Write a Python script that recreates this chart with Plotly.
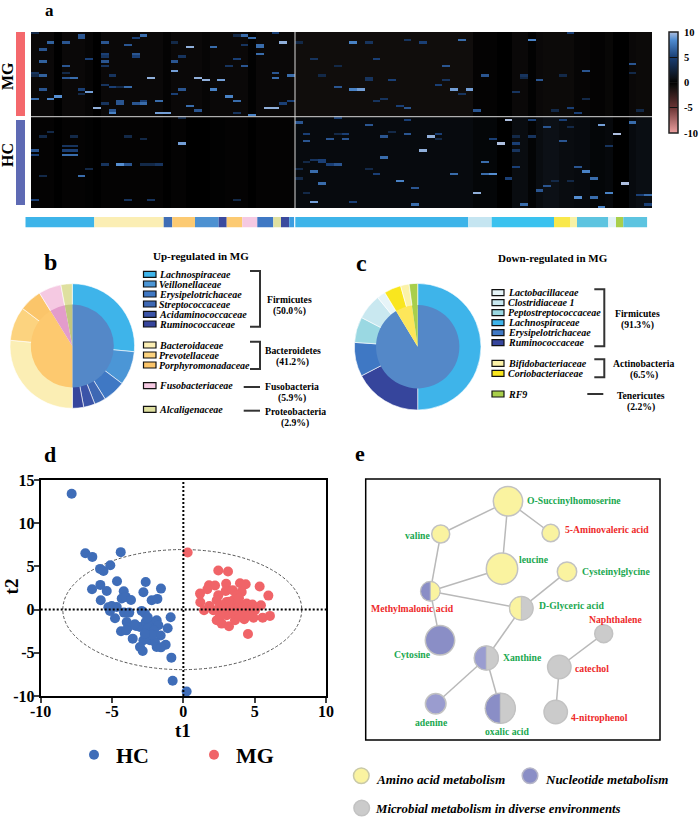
import plotly.graph_objects as go

W, H = 700, 818
SERIF = "Liberation Serif"

# heatmap: (column, row, value); rows 0-35 are MG, rows 36-74 are HC
n_cols, n_rows = 80, 75
marks_mg = [
    (0,0,3),(2,4,6.5),(1,7,6),(1,12,6.5),(0,17,4),(1,18,6.5),(0,18,3),(1,24,6),(0,28,7),(2,28,8),(3,27,8.5),
    (4,4,6),(4,14,6),(4,17,3),(4,19,6),(5,19,7),(6,1,6),(6,2,6),(6,24,5),(7,25,9),(7,11,5),(6,26,3),(8,32,9.5),
    (9,4,6),(9,9,5),(9,10,4),(9,12,6),(9,14,4),(9,22,4),(9,30,4),(10,18,4),(10,23,5),(10,33,6),(10,34,8),
    (11,29,6),(11,30,6),(11,23,3),(12,23,7),(12,5,6),(13,2,5),(13,9,6),(13,10,5),(14,1,7),(13,30,6),(14,30,7),
    (14,29,5),(15,19,9.5),(16,29,7),(16,34,9),(17,34,9),(18,12,6),(18,16,9),(18,26,5),(18,4,3),(19,24,6),(19,10,4),
    (20,6,9.5),(20,31,7),(21,19,9.5),(21,33,6),(22,20,9.5),(23,6,7),(23,24,8),(24,20,9),(25,27,8),(26,29,7),
    (26,1,3),(25,14,4),(26,11,5),(27,1,7),(28,2,7),(27,14,6),(27,5,4),(29,5,7),(29,6,7),(29,9,7),(31,0,5),
    (30,32,9.5),(31,32,9.5),(32,4,9.5),(31,17,6),(31,19,7),(32,30,5),(33,29,5),(33,18,7),(28,35,8),(26,34,4),
    (36,11,4),(39,23,6),(34,4,3),(37,18,3),(39,14,3),(41,4,8),(43,4,4),(44,11,5),(43,19,4),(43,20,4),(41,24,8),
    (42,24,9),(44,29,4),(45,28,4),(46,20,5),(47,31,5),(48,3,4),(48,32,6),(50,4,5),(52,22,5),(53,14,6),(53,20,4),
    (54,24,9),(55,3,7),(56,24,9),(55,26,4),(57,33,6),(58,18,6),(62,25,4),(63,18,4),(63,19,3),(64,3,8),(65,20,6),
    (67,33,3),(68,18,3),(69,0,5),(69,32,5),(70,34,5),(71,16,6),(71,28,3),(77,13,6),(77,17,3),(78,33,3),
]
marks_hc = [
    (0,50,6),(0,52,5),(2,42,3),(0,71,5),(1,61,3),(4,48,4),(5,48,4),(4,50,5),(5,50,5),(4,52,7),(5,52,7),(5,44,3),
    (6,61,7),(7,58,3),(9,56,4),(11,56,8.5),(12,56,6),(14,56,3),(15,56,3),(16,56,4),(19,47,9),(19,36,3),(12,71,4),
    (15,71,4),(26,71,3),(1,44,3),(14,45,3),(12,44,3),
    (34,38,6),(35,43,5),(35,46,6),(35,55,3),(36,54,4),(37,54,5),(37,55,5),(38,56,5),(38,45,6),(39,36,5),(39,56,6),
    (39,43,3),(40,43,5),(40,45,6),(36,59,7),(37,64,7),(36,72,9),(35,68,3),(34,62,3),(34,58,3),(41,72,5),(43,39,6),
    (43,58,3),(44,60,5),(45,44,6),(45,53,7),(46,42,3),(47,63,8),(48,37,5),(48,43,6),(49,66,6),(49,73,7),(50,50,9.5),
    (51,44,9.5),(52,43,5),(52,45,3),(54,60,7),(57,68,9.5),(58,55,7),(58,60,7),(59,60,8.5),(59,45,5),(60,47,10),
    (61,37,10),(61,62,5),(62,47,5),(62,50,4),(62,57,5),(62,44,3),(63,73,7),(64,37,5),(64,44,4),(65,67,6),(66,40,6),
    (66,65,6),(67,63,3),(68,46,6),(68,37,5),(69,40,3),(69,63,3),(70,57,6),(70,70,8.5),(71,59,8),(72,62,7),(72,70,7),
    (73,39,9),(73,74,8),(74,68,8),(74,48,4),(75,43,10),(76,64,10),(77,38,7),(78,69,5),(79,69,7),(79,73,5),
]
# background level of each column, same estimate for the whole group
base_mg = [-0.5,-0.5,-0.5,0,-0.5,-0.5,-0.5,-0.3,0,-0.5,-0.5,-0.5,-0.5,-0.5,-0.5,-0.5,-0.5,-0.2,-0.5,-0.5,-0.5,-0.5,-0.3,-0.5,-0.5,-0.5,-0.5,-0.5,-0.1,-0.5,-0.5,-0.5,-0.5,-0.5,
           -0.8,-0.8,-0.8,-0.8,-0.8,-0.8,-0.8,-0.8,-0.8,-0.8,-0.8,-0.8,-0.8,-0.8,-0.8,-0.8,-0.8,-0.8,-0.8,-0.8,-0.8,-0.8,-0.8,-0.2,-0.2,-0.2,0,0,-0.5,-0.5,-0.1,-0.5,-0.6,-0.6,-0.6,-0.6,-0.3,-0.3,-0.2,-0.2,-0.4,0,0,-0.5,-0.6,-0.6]
base_hc = [-0.2,-0.2,-0.2,0,-0.2,-0.2,-0.2,-0.1,0,-0.2,-0.2,-0.2,-0.2,-0.2,-0.2,-0.2,-0.2,0,-0.2,-0.2,0,0,0,-0.1,-0.1,-0.2,-0.2,-0.2,0,-0.2,-0.2,-0.2,-0.2,-0.2,
           0.5,0.5,0.5,0.5,0.5,0.5,0.5,0.5,0.5,0.5,0.5,0.5,0.5,0.5,0.5,0.5,0.5,0.5,0.5,0.5,0.5,0.5,0.5,0.3,0.3,0.3,0,0,0.6,0.6,0.2,0.6,0.8,0.8,0.6,0.6,0.5,0.5,0.3,0.3,0.4,0,0,0.5,0.7,0.7]
bar_ticks = [-10, -5, 0, 5, 10]
bar_labels = ["\u00a0-10", "\u00a0-5", "\u00a00", "\u00a05", "\u00a010"]

# family strip under the heatmap
strip_widths = [69, 69.4, 8.6, 22.7, 23.7, 8, 15.6, 15, 16, 7.7, 8.3, 5, 1, 173, 23.4, 62.3, 16, 7, 31.3, 7.7, 7.3, 24]
strip_colors = ["#3db4e9","#fbeeb4","#3f6db5","#fcca72","#4d91d1","#3b4a9e","#fcca72","#f5c9e2","#3f78c4","#dfe0a0","#3b4a9e",
                "#3b9de0","#ffffff","#3db4e9","#c5e5f1","#3ac2ef","#f9e84b","#f8f2a6","#5dc4e0","#e3f2f7","#a9cf4b","#5dc4e0"]

# pies, feature counts per family and phylum
up_family = ["Lachnospiraceae","Veillonellaceae","Erysipelotrichaceae","Streptococcaceae","Acidaminococcaceae","Ruminococcaceae",
             "Bacteroidaceae","Prevotellaceae","Porphyromonadaceae","Fusobacteriaceae","Alcaligenaceae"]
up_counts = [9, 3, 2, 1, 1, 1, 9, 3, 2, 2, 1]
up_colors = ["#3eb4ea","#4b96d6","#3f78c4","#3e68b4","#3b54a8","#36459c","#fbeeb4","#fcd37f","#fbc56a","#f5c9e2","#dfe0a0"]
up_phylum = [50.0, 41.2, 5.9, 2.9]
up_phylum_colors = ["#5488c8","#fdc96f","#e39ccb","#c3c77f"]
down_family = ["Lachnospiraceae","Ruminococcaceae","Erysipelotrichaceae","Peptostreptococcaceae","Clostridiaceae 1","Lactobacillaceae",
               "Coriobacteriaceae","Bifidobacteriaceae","RF9"]
down_counts = [23, 8, 4, 3, 3, 1, 2, 1, 1]
down_colors = ["#3eb4ea","#36459c","#3f78c4","#9ad8e2","#c9e8f0","#e6f4f8","#f9e61e","#fbf2a8","#a9cf4b"]
down_phylum = [91.3, 6.5, 2.2]
down_phylum_colors = ["#5488c8","#fde65a","#a9cf4b"]

# score plot
hc_t1 = [-7.83,-6.87,-6.38,-4.39,-5.84,-5.6,-5.12,-4.65,-5.82,-6.4,-5.37,-2.64,-2.8,-1.57,-4.18,-4.32,-4.04,-3.67,-5.79,-2.22,-1.82,
         -5.26,-5.02,-4.67,-5.14,-4.79,-4.16,-3.79,-2.92,-2.69,-0.89,-3.97,-3.86,-4.37,-4.0,-3.32,-3.04,-2.64,-2.45,-2.22,-1.87,-1.75,
         -2.5,-2.06,-1.1,-1.59,-3.55,-2.57,-2.8,-2.34,-1.99,-1.24,-1.87,-1.57,-3.04,-2.85,-0.84,-0.75,0.23,-2.5,-2.2,-2.7,-3.4]
hc_t2 = [13.4,6.53,6.1,6.65,4.71,4.48,5.14,3.28,2.86,2.36,2.16,3.2,2.0,2.43,2.13,1.28,1.47,1.12,1.08,1.08,1.24,
         0.27,0.42,0.31,-0.15,-1.0,-0.35,-0.35,-0.15,-0.46,-0.89,-1.43,-2.0,-2.5,-2.4,-1.9,-2.0,-1.43,-1.24,-1.82,-1.24,-1.82,
         -2.2,-2.4,-2.16,-3.0,-3.36,-3.17,-3.55,-3.55,-3.75,-4.06,-4.33,-4.37,-4.33,-4.79,-5.56,-8.23,-9.47,-0.9,-2.9,-2.8,-1.7]
mg_t1 = [0.3,2.45,3.13,1.8,2.22,3.0,3.97,4.37,5.35,5.96,1.17,1.68,1.19,2.45,2.97,3.46,4.09,3.74,2.34,1.82,1.45,2.1,2.57,3.04,3.5,3.97,
         4.44,4.84,5.44,2.69,3.27,3.74,4.2,4.67,5.02,2.34,2.69,3.2,3.62,4.27,4.91,5.56,6.07,4.53,3.04,2.57,3.5,3.97,4.56,3.2,3.9,4.2,2.9,3.5]
mg_t2 = [6.6,4.52,4.4,2.82,2.78,2.98,3.05,2.94,2.67,1.62,1.85,2.36,0.85,1.66,2.16,2.24,2.05,1.66,1.08,0.42,-0.08,-0.08,0.5,0.89,1.08,0.7,
         0.7,0.58,0.5,-0.08,0.31,0.12,-0.08,-0.08,-0.08,-1.24,-1.62,-1.93,-1.24,-1.12,-0.93,-0.93,-0.73,-2.82,-0.66,-0.66,-0.46,-0.66,-0.66,0.9,1.3,0.2,0.2,-0.1]
t1_ticks = [-10, -5, 0, 5, 10]
t1_labels = ["-10", "-5", "0", "5", "10"]
t2_ticks = [-10, -5, 0, 5, 10, 15]
t2_labels = ["-10", "-5", "0", "5", "10", "15"]

# network, node positions are read in page pixels
node_names = ["O-Succinylhomoserine","valine","5-Aminovaleric acid","leucine","Cysteinylglycine","Methylmalonic acid","D-Glyceric acid",
              "Naphthalene","Cytosine","Xanthine","catechol","adenine","oxalic acid","4-nitrophenol"]
node_x = [508, 440.7, 550.7, 502, 567, 430.3, 521.3, 603.7, 440, 486.3, 559.3, 435.7, 500.3, 555.7]
node_y = [501.3, 534, 533, 568.7, 571.7, 591.3, 608.3, 633.7, 640.3, 658, 667, 703.7, 708.3, 712]
node_r = [14.7, 9, 8.7, 15.7, 9.7, 9.7, 11.7, 9, 14.7, 12, 11.7, 10.3, 15, 11.7]
node_colors = ["#faf3a0","#faf3a0","#faf3a0","#faf3a0","#faf3a0","#faf3a0","#faf3a0","#cbcbcb","#8a8ec6","#cbcbcb","#cbcbcb","#9a9ccf","#cbcbcb","#cbcbcb"]
edges = [(0,1),(0,2),(0,3),(1,5),(5,3),(5,6),(5,8),(6,4),(6,9),(9,11),(9,12),(7,10),(10,13)]
# right half, left half
split_nodes = {"Methylmalonic acid": ("#faf3a0","#8a8ec6"), "D-Glyceric acid": ("#cbcbcb","#faf3a0"),
               "Xanthine": ("#cbcbcb","#9a9dd0"), "oxalic acid": ("#cbcbcb","#8a8ec6")}
label_x = [574, 417.7, 607, 533.7, 616.7, 412.7, 571, 615.3, 412, 522.7, 592, 431, 506.7, 599.7]
label_y = [500, 535, 529.7, 559, 571.7, 608.3, 605.7, 619, 654.3, 657, 668, 722.7, 731.7, 717.3]
label_colors = ["#1aa850","#1aa850","#ee2a2a","#1aa850","#1aa850","#ee2a2a","#1aa850","#ee2a2a","#1aa850","#1aa850","#ee2a2a","#1aa850","#1aa850","#ee2a2a"]


def dx(a, b):
    return [a / W, b / W]


def dy(top, bottom):
    return [1 - bottom / H, 1 - top / H]


fig = go.Figure()

z = []
for r in range(n_rows):
    z.append(list(base_mg if r < 36 else base_hc))
for c, r, v in marks_mg + marks_hc:
    z[r][c] = v

fig.add_trace(go.Heatmap(
    z=z, zmin=-10, zmax=10, xaxis="x", yaxis="y",
    colorscale=[[0, "#eda0a0"], [0.25, "#6b3434"], [0.46, "#100d0c"], [0.5, "#000000"], [0.54, "#0c1016"], [0.75, "#1a3f75"], [0.92, "#4f8bd0"], [1, "#aebfdf"]],
    colorbar=dict(x=668.5 / W, xanchor="left", y=1 - 32 / H, yanchor="top", lenmode="pixels", len=100.5, ypad=0,
                  thicknessmode="pixels", thickness=9, outlinecolor="#222", outlinewidth=1.5,
                  tickvals=bar_ticks, ticktext=bar_labels, ticks="inside", ticklen=9, tickcolor="#111", xpad=0,
                  tickfont=dict(family=SERIF, size=10.5, color="black", weight=700)),
))

strip_base = [sum(strip_widths[:i]) for i in range(len(strip_widths))]
fig.add_trace(go.Bar(x=strip_widths, base=strip_base, y=[0] * len(strip_widths), orientation="h", width=1,
                     marker=dict(color=strip_colors, line_width=0), xaxis="x2", yaxis="y2", showlegend=False))

fig.add_trace(go.Scatter(x=hc_t1, y=hc_t2, mode="markers", name="HC", xaxis="x3", yaxis="y3",
                         marker=dict(color="#3f6db8", size=10)))
fig.add_trace(go.Scatter(x=mg_t1, y=mg_t2, mode="markers", name="MG", xaxis="x3", yaxis="y3",
                         marker=dict(color="#f06468", size=10)))

# network edges and nodes
ex, ey = [], []
for a, b in edges:
    ex += [node_x[a], node_x[b], None]
    ey += [node_y[a], node_y[b], None]
fig.add_trace(go.Scatter(x=ex, y=ey, mode="lines", line=dict(color="#b9b9b9", width=1.5), xaxis="x4", yaxis="y4", showlegend=False))
fig.add_trace(go.Scatter(x=node_x, y=node_y, mode="markers", xaxis="x4", yaxis="y4", showlegend=False,
                         marker=dict(size=[2 * r for r in node_r], sizemode="diameter", color=node_colors,
                                     line=dict(color="#c2c2c2", width=1.5), opacity=1)))


def ring(cx, cy, r, values, colors, hole=0, lw=0.6):
    fig.add_trace(go.Pie(values=values, sort=False, direction="clockwise", rotation=0, hole=hole, textinfo="none",
                         hoverinfo="skip", showlegend=False, marker=dict(colors=colors, line=dict(color="white", width=lw)),
                         domain=dict(x=dx(cx - r, cx + r), y=dy(cy - r, cy + r))))


ring(72.3, 346, 62.3, up_counts, up_colors, hole=0.6)
ring(72.3, 346, 41.5, up_phylum, up_phylum_colors, lw=0)
ring(417.7, 346.7, 63.3, down_counts, down_colors, hole=0.6)
ring(417.7, 346.7, 41.7, down_phylum, down_phylum_colors, lw=0)

for name, cols in split_nodes.items():
    i = node_names.index(name)
    r = node_r[i]
    fig.add_trace(go.Pie(values=[1, 1], sort=False, direction="clockwise", rotation=0, textinfo="none", hoverinfo="skip",
                         showlegend=False, marker=dict(colors=list(cols), line=dict(color="#c2c2c2", width=1)),
                         domain=dict(x=dx(node_x[i] - r, node_x[i] + r), y=dy(node_y[i] - r, node_y[i] + r))))

shapes = []


def canvas_rect(x0, y0, x1, y1, fill="rgba(0,0,0,0)", line="black", lw=1.0):
    shapes.append(dict(type="rect", xref="x4", yref="y4", x0=x0, y0=y0, x1=x1, y1=y1, fillcolor=fill, line=dict(color=line, width=lw)))


def canvas_path(path, color="#333", lw=2):
    shapes.append(dict(type="path", xref="x4", yref="y4", path=path, line=dict(color=color, width=lw)))


def canvas_dot(cx, cy, r, fill, line):
    shapes.append(dict(type="circle", xref="x4", yref="y4", x0=cx - r, x1=cx + r, y0=cy - r, y1=cy + r, fillcolor=fill, line=dict(color=line, width=1.5)))


# group bars and heatmap separators
canvas_rect(16, 32, 25, 116, fill="#f4686c", line="#f4686c", lw=0)
canvas_rect(16, 120, 25, 205, fill="#5e6ab4", line="#5e6ab4", lw=0)
canvas_path("M 295 32 L 295 208", color="#d8d8d8", lw=1)
canvas_path("M 31 116.7 L 652 116.7", color="#d8d8d8", lw=1)

# swatches and brackets for pies
up_rows = [274.3, 284, 294, 304, 314.3, 324, 345, 355, 365, 385.7, 409.3]
down_rows = [292.7, 302.7, 312.7, 322.7, 332.7, 342.7, 363.3, 373.3, 394]
for y, c in zip(up_rows, ["#3eb4ea","#4b96d6","#3f78c4","#3e68b4","#3b54a8","#36459c","#fbeeb4","#fcd37f","#fbc56a","#f5c9e2","#dfe0a0"]):
    canvas_rect(143.5, y - 3, 156, y + 3, fill=c, line="#111", lw=1.2)
for y, c in zip(down_rows, ["#e6f4f8","#c9e8f0","#9ad8e2","#3eb4ea","#3f78c4","#36459c","#fbf2a8","#f9e61e","#a9cf4b"]):
    canvas_rect(492, y - 3, 504, y + 3, fill=c, line="#111", lw=1.2)
canvas_path("M 250 271 H 260 V 326.7 H 250")
canvas_path("M 250 341.7 H 260 V 369 H 250")
canvas_path("M 243.7 387 H 260")
canvas_path("M 243.7 410.7 H 260")
canvas_path("M 594.3 289.3 H 604.3 V 346.3 H 594.3")
canvas_path("M 594.3 359.3 H 604.3 V 377.3 H 594.3")
canvas_path("M 587.3 394 H 603.3")

# score plot guides
shapes.append(dict(type="circle", xref="x3", yref="y3", x0=-8.45, x1=8.3, y0=-6.95, y1=6.95, layer="below", line=dict(color="#555", width=1, dash="3px,2px")))
shapes.append(dict(type="line", xref="x3", yref="y3", x0=-10, x1=10, y0=0, y1=0, line=dict(color="black", width=2, dash="2px,2px")))
shapes.append(dict(type="line", xref="x3", yref="y3", x0=0, x1=0, y0=-10, y1=15, line=dict(color="black", width=2, dash="2px,2px")))

# network frame and legend
canvas_rect(365.7, 479, 660, 740, lw=1.5)
canvas_dot(361.3, 775.7, 7.8, "#faf3a0", "#c9c9a8")
canvas_dot(530, 775.7, 7.8, "#8a8ec6", "#b5b5c8")
canvas_dot(361.7, 808, 7.8, "#cbcbcb", "#c2c2c2")

notes = []


def text(x, y, s, size=10, color="black", bold=True, italic=False, align="center", angle=0):
    if italic:
        s = "<i>" + s + "</i>"
    if bold:
        s = "<b>" + s + "</b>"
    if align == "left":
        x -= 3
    notes.append(dict(x=x, y=y, xref="x4", yref="y4", text=s, showarrow=False, xanchor=align, yanchor="middle", textangle=angle,
                      font=dict(family=SERIF, size=size, color=color)))


for s, x, y, size in [("a", 49, 10, 17), ("b", 50, 262, 24), ("c", 361.7, 263, 24), ("d", 50, 454, 22), ("e", 360, 453, 22)]:
    text(x, y, s, size=size)
text(7, 76, "MG", size=16, angle=-90)
text(7, 155, "HC", size=16, angle=-90)
text(182.7, 730, "t1", size=19)
text(11.7, 586.7, "t2", size=19, angle=-90)

text(200.7, 256, "Up-regulated in MG", size=11)
for y, s in zip(up_rows, ["Lachnospiraceae","Veillonellaceae","Erysipelotrichaceae","Streptococcaceae","Acidaminococcaceae","Ruminococcaceae",
                          "Bacteroidaceae","Prevotellaceae","Porphyromonadaceae","Fusobacteriaceae","Alcaligenaceae"]):
    text(159.5, y, s, size=10, italic=True, align="left")
for x, y, s in [(289.3, 299.7, "Firmicutes"), (289.3, 311, "(50.0%)"), (292.7, 350, "Bacteroidetes"), (292.7, 361.7, "(41.2%)"),
                (292.3, 386.7, "Fusobacteria"), (292.3, 398.3, "(5.9%)"), (295, 411.3, "Proteobacteria"), (295, 423, "(2.9%)")]:
    text(x, y, s, size=9.7)

text(553.3, 257.7, "Down-regulated in MG", size=11)
for y, s in zip(down_rows, ["Lactobacillaceae","Clostridiaceae 1","Peptostreptococcaceae","Lachnospiraceae","Erysipelotrichaceae","Ruminococcaceae",
                            "Bifidobacteriaceae","Coriobacteriaceae","RF9"]):
    text(508.7, y, s, size=10, italic=True, align="left")
for x, y, s in [(637.3, 313.7, "Firmicutes"), (637.3, 325, "(91.3%)"), (643.7, 363.3, "Actinobacteria"), (643.7, 375, "(6.5%)"),
                (640.7, 395, "Tenericutes"), (640.7, 406.7, "(2.2%)")]:
    text(x, y, s, size=9.7)

for s, x, y, c in zip(node_names, label_x, label_y, label_colors):
    text(x, y, s, size=9.7, color=c)
text(376.7, 779, "Amino acid metabolism", size=13.2, italic=True, align="left")
text(546, 779, "Nucleotide metabolism", size=13, italic=True, align="left")
text(376, 809, "Microbial metabolism in diverse environments", size=12.8, italic=True, align="left")

hidden = dict(visible=False, fixedrange=True)
tick_font = dict(family=SERIF, size=16, color="black", weight=700)

fig.update_layout(
    width=W, height=H, margin=dict(l=0, r=0, t=0, b=0, autoexpand=False), paper_bgcolor="white", plot_bgcolor="rgba(0,0,0,0)",
    xaxis=dict(domain=dx(31, 652.3), range=[-0.5, n_cols - 0.5], **hidden),
    yaxis=dict(domain=dy(32, 208), range=[n_rows - 0.5, -0.5], **hidden),
    xaxis2=dict(domain=dx(25.3, 647.3), range=[0, sum(strip_widths)], **hidden),
    yaxis2=dict(domain=dy(217, 227.5), range=[-0.5, 0.5], **hidden),
    xaxis3=dict(domain=dx(40.7, 326), range=[-10, 10], tickvals=t1_ticks, ticktext=t1_labels, ticks="outside", ticklen=5, tickwidth=2, showline=True,
                linecolor="black", linewidth=2, mirror=True, showgrid=False, zeroline=False, tickfont=tick_font, automargin=False, anchor="y3",
                ticklabelstandoff=-5),
    yaxis3=dict(domain=dy(480, 696), range=[-10, 15], tickvals=t2_ticks, ticktext=t2_labels, ticks="outside", ticklen=5, tickwidth=2, showline=True,
                linecolor="black", linewidth=2, mirror=True, showgrid=False, zeroline=False, tickfont=tick_font, automargin=False, anchor="x3",
                ticklabelstandoff=-4),
    xaxis4=dict(domain=[0, 1], range=[0, W], **hidden),
    yaxis4=dict(domain=[0, 1], range=[H, 0], **hidden),
    shapes=shapes, annotations=notes, showlegend=True,
    legend=dict(orientation="h", x=72 / W, y=1 - 734 / H, xanchor="left", yanchor="top", entrywidth=71, entrywidthmode="pixels",
                itemwidth=34, bgcolor="rgba(0,0,0,0)", font=dict(family=SERIF, size=22, color="black", weight=700)),
)

# page body has a default margin, the figure has to sit at the window corner
fig.write_html("out.html", config={"displayModeBar": False}, post_script="document.body.style.margin='0';")
